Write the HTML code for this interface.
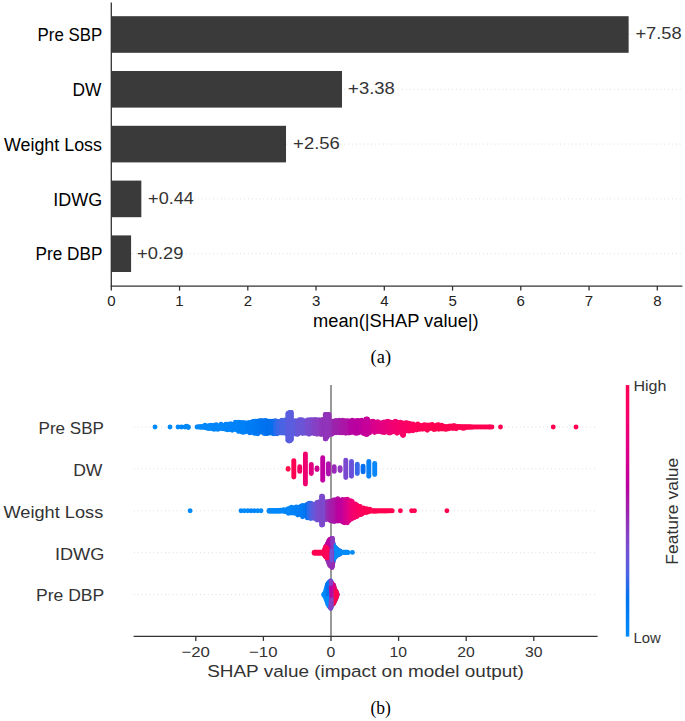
<!DOCTYPE html>
<html><head><meta charset="utf-8"><style>
html,body{margin:0;padding:0;background:#fff;width:685px;height:721px;overflow:hidden}
svg{display:block}
</style></head><body>
<svg width="685" height="721" viewBox="0 0 685 721">
<rect width="685" height="721" fill="#fff"/>
<line x1="113.05" y1="34.5" x2="682.4" y2="34.5" stroke="#c4c4c4" stroke-width="0.75" stroke-dasharray="0.75 3.105"/>
<line x1="113.05" y1="89.3" x2="682.4" y2="89.3" stroke="#c4c4c4" stroke-width="0.75" stroke-dasharray="0.75 3.105"/>
<line x1="113.05" y1="144.1" x2="682.4" y2="144.1" stroke="#c4c4c4" stroke-width="0.75" stroke-dasharray="0.75 3.105"/>
<line x1="113.05" y1="198.9" x2="682.4" y2="198.9" stroke="#c4c4c4" stroke-width="0.75" stroke-dasharray="0.75 3.105"/>
<line x1="113.05" y1="253.7" x2="682.4" y2="253.7" stroke="#c4c4c4" stroke-width="0.75" stroke-dasharray="0.75 3.105"/>
<rect x="111.3" y="16.2" width="517.34" height="36.6" fill="#3a3a3a"/>
<rect x="111.3" y="71" width="230.69" height="36.6" fill="#3a3a3a"/>
<rect x="111.3" y="125.8" width="174.72" height="36.6" fill="#3a3a3a"/>
<rect x="111.3" y="180.6" width="30.03" height="36.6" fill="#3a3a3a"/>
<rect x="111.3" y="235.4" width="19.79" height="36.6" fill="#3a3a3a"/>
<line x1="111.3" y1="2.5" x2="111.3" y2="286.1" stroke="#333" stroke-width="1.3"/>
<line x1="110.64999999999999" y1="286.1" x2="682.4" y2="286.1" stroke="#333" stroke-width="1.3"/>
<line x1="111.3" y1="286.1" x2="111.3" y2="290.6" stroke="#333" stroke-width="1.3"/>
<text transform="translate(107.13 305.6) scale(1.0000 1)" font-family='"Liberation Sans", sans-serif' font-size="15" fill="#222">0</text>
<line x1="179.55" y1="286.1" x2="179.55" y2="290.6" stroke="#333" stroke-width="1.3"/>
<text transform="translate(175.17 305.6) scale(1.0000 1)" font-family='"Liberation Sans", sans-serif' font-size="15" fill="#222">1</text>
<line x1="247.8" y1="286.1" x2="247.8" y2="290.6" stroke="#333" stroke-width="1.3"/>
<text transform="translate(243.63 305.6) scale(1.0000 1)" font-family='"Liberation Sans", sans-serif' font-size="15" fill="#222">2</text>
<line x1="316.05" y1="286.1" x2="316.05" y2="290.6" stroke="#333" stroke-width="1.3"/>
<text transform="translate(311.92 305.6) scale(1.0000 1)" font-family='"Liberation Sans", sans-serif' font-size="15" fill="#222">3</text>
<line x1="384.3" y1="286.1" x2="384.3" y2="290.6" stroke="#333" stroke-width="1.3"/>
<text transform="translate(380.18 305.6) scale(1.0000 1)" font-family='"Liberation Sans", sans-serif' font-size="15" fill="#222">4</text>
<line x1="452.55" y1="286.1" x2="452.55" y2="290.6" stroke="#333" stroke-width="1.3"/>
<text transform="translate(448.39 305.6) scale(1.0000 1)" font-family='"Liberation Sans", sans-serif' font-size="15" fill="#222">5</text>
<line x1="520.8" y1="286.1" x2="520.8" y2="290.6" stroke="#333" stroke-width="1.3"/>
<text transform="translate(516.58 305.6) scale(1.0000 1)" font-family='"Liberation Sans", sans-serif' font-size="15" fill="#222">6</text>
<line x1="589.05" y1="286.1" x2="589.05" y2="290.6" stroke="#333" stroke-width="1.3"/>
<text transform="translate(584.87 305.6) scale(1.0000 1)" font-family='"Liberation Sans", sans-serif' font-size="15" fill="#222">7</text>
<line x1="657.3" y1="286.1" x2="657.3" y2="290.6" stroke="#333" stroke-width="1.3"/>
<text transform="translate(653.13 305.6) scale(1.0000 1)" font-family='"Liberation Sans", sans-serif' font-size="15" fill="#222">8</text>
<text transform="translate(37.62 41.2) scale(0.9582 1)" font-family='"Liberation Sans", sans-serif' font-size="17.6" fill="#000">Pre SBP</text>
<text transform="translate(72.58 96) scale(0.9850 1)" font-family='"Liberation Sans", sans-serif' font-size="17.6" fill="#000">DW</text>
<text transform="translate(3.92 150.8) scale(1.0163 1)" font-family='"Liberation Sans", sans-serif' font-size="17.6" fill="#000">Weight Loss</text>
<text transform="translate(53.34 205.6) scale(1.0231 1)" font-family='"Liberation Sans", sans-serif' font-size="17.6" fill="#000">IDWG</text>
<text transform="translate(35.59 260.4) scale(0.9774 1)" font-family='"Liberation Sans", sans-serif' font-size="17.6" fill="#000">Pre DBP</text>
<text transform="translate(635.41 39.4) scale(1.1198 1)" font-family='"Liberation Sans", sans-serif' font-size="16.3" fill="#333">+7.58</text>
<text transform="translate(348.1 94.2) scale(1.1324 1)" font-family='"Liberation Sans", sans-serif' font-size="16.3" fill="#333">+3.38</text>
<text transform="translate(293.1 149) scale(1.1326 1)" font-family='"Liberation Sans", sans-serif' font-size="16.3" fill="#333">+2.56</text>
<text transform="translate(148.12 203.8) scale(1.1108 1)" font-family='"Liberation Sans", sans-serif' font-size="16.3" fill="#333">+0.44</text>
<text transform="translate(137.11 258.6) scale(1.1241 1)" font-family='"Liberation Sans", sans-serif' font-size="16.3" fill="#333">+0.29</text>
<text transform="translate(312.98 326.6) scale(1.0398 1)" font-family='"Liberation Sans", sans-serif' font-size="17.6" fill="#000">mean(|SHAP value|)</text>
<text transform="translate(370.59 363.3) scale(1.0106 1)" font-family='"Liberation Serif", serif' font-size="18.3" fill="#000">(a)</text>
<line x1="133.79999999999998" y1="427" x2="597.6" y2="427" stroke="#c4c4c4" stroke-width="0.75" stroke-dasharray="0.75 3.15"/>
<line x1="133.79999999999998" y1="468.9" x2="597.6" y2="468.9" stroke="#c4c4c4" stroke-width="0.75" stroke-dasharray="0.75 3.15"/>
<line x1="133.79999999999998" y1="510.8" x2="597.6" y2="510.8" stroke="#c4c4c4" stroke-width="0.75" stroke-dasharray="0.75 3.15"/>
<line x1="133.79999999999998" y1="552.7" x2="597.6" y2="552.7" stroke="#c4c4c4" stroke-width="0.75" stroke-dasharray="0.75 3.15"/>
<line x1="133.79999999999998" y1="594.6" x2="597.6" y2="594.6" stroke="#c4c4c4" stroke-width="0.75" stroke-dasharray="0.75 3.15"/>
<line x1="331.0" y1="385" x2="331.0" y2="636.4" stroke="#999" stroke-width="2"/>
<g>
<circle cx="155.0" cy="427.0" r="2.45" fill="#008bfb"/>
<circle cx="170.0" cy="427.0" r="2.45" fill="#008bfb"/>
<circle cx="178.0" cy="427.0" r="2.45" fill="#008afb"/>
<circle cx="181.4" cy="427.0" r="2.45" fill="#0087fa"/>
<circle cx="184.9" cy="427.0" r="2.45" fill="#0089fa"/>
<circle cx="188.3" cy="427.0" r="2.45" fill="#0087fa"/>
<circle cx="186.5" cy="426.2" r="2.45" fill="#0088fa"/>
<circle cx="188.3" cy="427.6" r="2.45" fill="#0088fa"/>
<line x1="197.0" y1="427.0" x2="197.0" y2="427.0" stroke="#0089fa" stroke-width="4.9" stroke-linecap="round"/>
<line x1="198.6" y1="426.8" x2="198.6" y2="427.1" stroke="#008afb" stroke-width="4.9" stroke-linecap="round"/>
<line x1="200.2" y1="426.6" x2="200.2" y2="427.2" stroke="#0089fa" stroke-width="4.9" stroke-linecap="round"/>
<line x1="201.8" y1="426.5" x2="201.8" y2="427.3" stroke="#0087fa" stroke-width="4.9" stroke-linecap="round"/>
<line x1="203.4" y1="426.9" x2="203.4" y2="427.4" stroke="#0089fa" stroke-width="4.9" stroke-linecap="round"/>
<line x1="205.0" y1="425.3" x2="205.0" y2="427.5" stroke="#0087fa" stroke-width="4.9" stroke-linecap="round"/>
<line x1="206.6" y1="426.3" x2="206.6" y2="428.0" stroke="#0089fa" stroke-width="4.9" stroke-linecap="round"/>
<line x1="208.2" y1="425.9" x2="208.2" y2="428.6" stroke="#0088fa" stroke-width="4.9" stroke-linecap="round"/>
<line x1="209.8" y1="425.4" x2="209.8" y2="428.4" stroke="#0089fa" stroke-width="4.9" stroke-linecap="round"/>
<line x1="211.4" y1="425.2" x2="211.4" y2="428.5" stroke="#0087fa" stroke-width="4.9" stroke-linecap="round"/>
<line x1="213.0" y1="426.6" x2="213.0" y2="429.1" stroke="#0087fa" stroke-width="4.9" stroke-linecap="round"/>
<line x1="214.6" y1="425.1" x2="214.6" y2="429.2" stroke="#0086f9" stroke-width="4.9" stroke-linecap="round"/>
<line x1="216.2" y1="424.7" x2="216.2" y2="428.3" stroke="#0085f9" stroke-width="4.9" stroke-linecap="round"/>
<line x1="217.8" y1="425.6" x2="217.8" y2="429.4" stroke="#0085f9" stroke-width="4.9" stroke-linecap="round"/>
<line x1="219.4" y1="426.2" x2="219.4" y2="427.9" stroke="#0087fa" stroke-width="4.9" stroke-linecap="round"/>
<line x1="221.0" y1="424.3" x2="221.0" y2="428.5" stroke="#0086f9" stroke-width="4.9" stroke-linecap="round"/>
<line x1="222.6" y1="425.6" x2="222.6" y2="428.7" stroke="#0086fa" stroke-width="4.9" stroke-linecap="round"/>
<line x1="224.2" y1="425.4" x2="224.2" y2="428.9" stroke="#0085f9" stroke-width="4.9" stroke-linecap="round"/>
<line x1="225.8" y1="424.2" x2="225.8" y2="429.2" stroke="#0084f9" stroke-width="4.9" stroke-linecap="round"/>
<line x1="227.4" y1="424.2" x2="227.4" y2="429.8" stroke="#0085f9" stroke-width="4.9" stroke-linecap="round"/>
<line x1="229.0" y1="425.5" x2="229.0" y2="429.6" stroke="#0084f9" stroke-width="4.9" stroke-linecap="round"/>
<line x1="230.6" y1="423.8" x2="230.6" y2="429.2" stroke="#0084f9" stroke-width="4.9" stroke-linecap="round"/>
<line x1="232.2" y1="424.7" x2="232.2" y2="430.2" stroke="#0084f9" stroke-width="4.9" stroke-linecap="round"/>
<line x1="233.8" y1="424.1" x2="233.8" y2="429.1" stroke="#0083f8" stroke-width="4.9" stroke-linecap="round"/>
<line x1="235.4" y1="422.2" x2="235.4" y2="429.6" stroke="#0083f8" stroke-width="4.9" stroke-linecap="round"/>
<line x1="237.0" y1="423.2" x2="237.0" y2="430.0" stroke="#0084f9" stroke-width="4.9" stroke-linecap="round"/>
<line x1="238.6" y1="422.3" x2="238.6" y2="431.6" stroke="#0084f9" stroke-width="4.9" stroke-linecap="round"/>
<line x1="240.2" y1="422.5" x2="240.2" y2="430.2" stroke="#0081f8" stroke-width="4.9" stroke-linecap="round"/>
<line x1="241.8" y1="423.0" x2="241.8" y2="432.0" stroke="#0080f7" stroke-width="4.9" stroke-linecap="round"/>
<line x1="243.4" y1="422.5" x2="243.4" y2="432.4" stroke="#0081f8" stroke-width="4.9" stroke-linecap="round"/>
<line x1="245.0" y1="423.3" x2="245.0" y2="431.7" stroke="#0082f8" stroke-width="4.9" stroke-linecap="round"/>
<line x1="246.6" y1="423.0" x2="246.6" y2="431.5" stroke="#007ff7" stroke-width="4.9" stroke-linecap="round"/>
<line x1="248.2" y1="422.9" x2="248.2" y2="430.9" stroke="#007df6" stroke-width="4.9" stroke-linecap="round"/>
<line x1="249.8" y1="422.4" x2="249.8" y2="432.9" stroke="#007cf5" stroke-width="4.9" stroke-linecap="round"/>
<line x1="251.4" y1="422.2" x2="251.4" y2="432.0" stroke="#007df5" stroke-width="4.9" stroke-linecap="round"/>
<line x1="253.0" y1="421.4" x2="253.0" y2="432.5" stroke="#007bf5" stroke-width="4.9" stroke-linecap="round"/>
<line x1="254.6" y1="421.1" x2="254.6" y2="433.4" stroke="#007af4" stroke-width="4.9" stroke-linecap="round"/>
<line x1="256.2" y1="421.2" x2="256.2" y2="433.2" stroke="#007af4" stroke-width="4.9" stroke-linecap="round"/>
<line x1="257.8" y1="421.4" x2="257.8" y2="433.8" stroke="#0078f2" stroke-width="4.9" stroke-linecap="round"/>
<line x1="259.4" y1="420.8" x2="259.4" y2="432.0" stroke="#0077f2" stroke-width="4.9" stroke-linecap="round"/>
<line x1="261.0" y1="420.7" x2="261.0" y2="432.1" stroke="#0075f1" stroke-width="4.9" stroke-linecap="round"/>
<line x1="262.6" y1="420.6" x2="262.6" y2="432.3" stroke="#0074f0" stroke-width="4.9" stroke-linecap="round"/>
<line x1="264.2" y1="420.9" x2="264.2" y2="433.5" stroke="#0074f0" stroke-width="4.9" stroke-linecap="round"/>
<line x1="265.8" y1="420.4" x2="265.8" y2="433.6" stroke="#0074f0" stroke-width="4.9" stroke-linecap="round"/>
<line x1="267.4" y1="421.7" x2="267.4" y2="433.5" stroke="#006fed" stroke-width="4.9" stroke-linecap="round"/>
<line x1="269.0" y1="421.3" x2="269.0" y2="433.1" stroke="#0070ed" stroke-width="4.9" stroke-linecap="round"/>
<line x1="270.6" y1="421.2" x2="270.6" y2="432.9" stroke="#0070ed" stroke-width="4.9" stroke-linecap="round"/>
<line x1="272.2" y1="421.1" x2="272.2" y2="433.3" stroke="#066fec" stroke-width="4.9" stroke-linecap="round"/>
<line x1="273.8" y1="421.1" x2="273.8" y2="433.7" stroke="#056fec" stroke-width="4.9" stroke-linecap="round"/>
<line x1="275.4" y1="420.7" x2="275.4" y2="433.6" stroke="#206ceb" stroke-width="4.9" stroke-linecap="round"/>
<line x1="277.0" y1="421.4" x2="277.0" y2="433.8" stroke="#296bea" stroke-width="4.9" stroke-linecap="round"/>
<line x1="278.6" y1="421.4" x2="278.6" y2="433.1" stroke="#3b68e7" stroke-width="4.9" stroke-linecap="round"/>
<line x1="280.2" y1="421.6" x2="280.2" y2="432.9" stroke="#3b68e7" stroke-width="4.9" stroke-linecap="round"/>
<line x1="281.8" y1="420.1" x2="281.8" y2="433.1" stroke="#4964e4" stroke-width="4.9" stroke-linecap="round"/>
<line x1="283.4" y1="421.4" x2="283.4" y2="432.9" stroke="#4b63e3" stroke-width="4.9" stroke-linecap="round"/>
<line x1="285.0" y1="420.0" x2="285.0" y2="433.2" stroke="#4964e3" stroke-width="4.9" stroke-linecap="round"/>
<line x1="286.6" y1="421.5" x2="286.6" y2="433.3" stroke="#4c63e3" stroke-width="4.9" stroke-linecap="round"/>
<line x1="288.2" y1="420.1" x2="288.2" y2="434.0" stroke="#4f62e2" stroke-width="4.9" stroke-linecap="round"/>
<line x1="289.8" y1="421.1" x2="289.8" y2="433.9" stroke="#575edf" stroke-width="4.9" stroke-linecap="round"/>
<line x1="291.4" y1="420.1" x2="291.4" y2="433.0" stroke="#5460e0" stroke-width="4.9" stroke-linecap="round"/>
<line x1="293.0" y1="421.1" x2="293.0" y2="433.9" stroke="#595ede" stroke-width="4.9" stroke-linecap="round"/>
<line x1="294.6" y1="421.0" x2="294.6" y2="433.2" stroke="#5d5cdd" stroke-width="4.9" stroke-linecap="round"/>
<line x1="296.2" y1="420.8" x2="296.2" y2="434.2" stroke="#5d5cdd" stroke-width="4.9" stroke-linecap="round"/>
<line x1="297.8" y1="421.6" x2="297.8" y2="434.2" stroke="#6757d8" stroke-width="4.9" stroke-linecap="round"/>
<line x1="299.4" y1="419.6" x2="299.4" y2="433.1" stroke="#6a55d7" stroke-width="4.9" stroke-linecap="round"/>
<line x1="301.0" y1="419.7" x2="301.0" y2="432.7" stroke="#6a55d7" stroke-width="4.9" stroke-linecap="round"/>
<line x1="302.6" y1="419.9" x2="302.6" y2="433.5" stroke="#6b55d6" stroke-width="4.9" stroke-linecap="round"/>
<line x1="304.2" y1="421.0" x2="304.2" y2="432.8" stroke="#6b55d7" stroke-width="4.9" stroke-linecap="round"/>
<line x1="305.8" y1="421.4" x2="305.8" y2="433.4" stroke="#6e53d5" stroke-width="4.9" stroke-linecap="round"/>
<line x1="307.4" y1="419.9" x2="307.4" y2="432.3" stroke="#774dcf" stroke-width="4.9" stroke-linecap="round"/>
<line x1="309.0" y1="420.0" x2="309.0" y2="434.2" stroke="#7b4bcd" stroke-width="4.9" stroke-linecap="round"/>
<line x1="310.6" y1="419.6" x2="310.6" y2="433.5" stroke="#774dcf" stroke-width="4.9" stroke-linecap="round"/>
<line x1="312.2" y1="419.8" x2="312.2" y2="432.8" stroke="#7d49cb" stroke-width="4.9" stroke-linecap="round"/>
<line x1="313.8" y1="420.0" x2="313.8" y2="433.6" stroke="#8145c8" stroke-width="4.9" stroke-linecap="round"/>
<line x1="315.4" y1="419.4" x2="315.4" y2="433.8" stroke="#8443c6" stroke-width="4.9" stroke-linecap="round"/>
<line x1="317.0" y1="420.7" x2="317.0" y2="434.3" stroke="#8740c3" stroke-width="4.9" stroke-linecap="round"/>
<line x1="318.6" y1="419.6" x2="318.6" y2="433.4" stroke="#883fc3" stroke-width="4.9" stroke-linecap="round"/>
<line x1="320.2" y1="420.1" x2="320.2" y2="434.3" stroke="#8a3dc1" stroke-width="4.9" stroke-linecap="round"/>
<line x1="321.8" y1="419.6" x2="321.8" y2="434.6" stroke="#9036bb" stroke-width="4.9" stroke-linecap="round"/>
<line x1="323.4" y1="419.5" x2="323.4" y2="432.8" stroke="#9035ba" stroke-width="4.9" stroke-linecap="round"/>
<line x1="325.0" y1="419.4" x2="325.0" y2="432.9" stroke="#8f36bb" stroke-width="4.9" stroke-linecap="round"/>
<line x1="326.6" y1="420.7" x2="326.6" y2="433.8" stroke="#9233b8" stroke-width="4.9" stroke-linecap="round"/>
<line x1="328.2" y1="420.3" x2="328.2" y2="434.2" stroke="#9134b9" stroke-width="4.9" stroke-linecap="round"/>
<line x1="329.8" y1="421.2" x2="329.8" y2="432.8" stroke="#9430b6" stroke-width="4.9" stroke-linecap="round"/>
<line x1="331.4" y1="421.3" x2="331.4" y2="434.4" stroke="#9927af" stroke-width="4.9" stroke-linecap="round"/>
<line x1="333.0" y1="421.3" x2="333.0" y2="433.3" stroke="#9829b1" stroke-width="4.9" stroke-linecap="round"/>
<line x1="334.6" y1="420.9" x2="334.6" y2="432.9" stroke="#9c23ad" stroke-width="4.9" stroke-linecap="round"/>
<line x1="336.2" y1="420.4" x2="336.2" y2="432.8" stroke="#9b24ad" stroke-width="4.9" stroke-linecap="round"/>
<line x1="337.8" y1="421.0" x2="337.8" y2="432.3" stroke="#a01fab" stroke-width="4.9" stroke-linecap="round"/>
<line x1="339.4" y1="420.3" x2="339.4" y2="432.8" stroke="#9f20ab" stroke-width="4.9" stroke-linecap="round"/>
<line x1="341.0" y1="421.4" x2="341.0" y2="432.7" stroke="#a61ba9" stroke-width="4.9" stroke-linecap="round"/>
<line x1="342.6" y1="420.3" x2="342.6" y2="432.7" stroke="#aa17a7" stroke-width="4.9" stroke-linecap="round"/>
<line x1="344.2" y1="420.7" x2="344.2" y2="432.7" stroke="#a918a8" stroke-width="4.9" stroke-linecap="round"/>
<line x1="345.8" y1="421.0" x2="345.8" y2="433.2" stroke="#ac15a6" stroke-width="4.9" stroke-linecap="round"/>
<line x1="347.4" y1="420.6" x2="347.4" y2="432.7" stroke="#ad14a6" stroke-width="4.9" stroke-linecap="round"/>
<line x1="349.0" y1="421.0" x2="349.0" y2="433.1" stroke="#ad13a6" stroke-width="4.9" stroke-linecap="round"/>
<line x1="350.6" y1="421.3" x2="350.6" y2="432.5" stroke="#b507a2" stroke-width="4.9" stroke-linecap="round"/>
<line x1="352.2" y1="420.3" x2="352.2" y2="432.4" stroke="#b703a1" stroke-width="4.9" stroke-linecap="round"/>
<line x1="353.8" y1="420.6" x2="353.8" y2="432.1" stroke="#b605a2" stroke-width="4.9" stroke-linecap="round"/>
<line x1="355.4" y1="422.0" x2="355.4" y2="433.2" stroke="#b900a0" stroke-width="4.9" stroke-linecap="round"/>
<line x1="357.0" y1="420.4" x2="357.0" y2="433.2" stroke="#bb009f" stroke-width="4.9" stroke-linecap="round"/>
<line x1="358.6" y1="420.6" x2="358.6" y2="432.9" stroke="#b900a0" stroke-width="4.9" stroke-linecap="round"/>
<line x1="360.2" y1="420.8" x2="360.2" y2="431.9" stroke="#bc009f" stroke-width="4.9" stroke-linecap="round"/>
<line x1="361.8" y1="420.3" x2="361.8" y2="432.0" stroke="#bd009e" stroke-width="4.9" stroke-linecap="round"/>
<line x1="363.4" y1="421.8" x2="363.4" y2="433.6" stroke="#c1009c" stroke-width="4.9" stroke-linecap="round"/>
<line x1="365.0" y1="422.1" x2="365.0" y2="433.3" stroke="#c4009a" stroke-width="4.9" stroke-linecap="round"/>
<line x1="366.6" y1="420.6" x2="366.6" y2="432.8" stroke="#cc0095" stroke-width="4.9" stroke-linecap="round"/>
<line x1="368.2" y1="420.6" x2="368.2" y2="432.5" stroke="#cf0093" stroke-width="4.9" stroke-linecap="round"/>
<line x1="369.8" y1="422.6" x2="369.8" y2="432.7" stroke="#d00092" stroke-width="4.9" stroke-linecap="round"/>
<line x1="371.4" y1="421.4" x2="371.4" y2="431.2" stroke="#d5008f" stroke-width="4.9" stroke-linecap="round"/>
<line x1="373.0" y1="421.1" x2="373.0" y2="431.0" stroke="#d5008f" stroke-width="4.9" stroke-linecap="round"/>
<line x1="374.6" y1="421.9" x2="374.6" y2="432.5" stroke="#d7008d" stroke-width="4.9" stroke-linecap="round"/>
<line x1="376.2" y1="422.8" x2="376.2" y2="431.3" stroke="#db008a" stroke-width="4.9" stroke-linecap="round"/>
<line x1="377.8" y1="421.8" x2="377.8" y2="431.6" stroke="#dc0089" stroke-width="4.9" stroke-linecap="round"/>
<line x1="379.4" y1="422.6" x2="379.4" y2="431.5" stroke="#de0087" stroke-width="4.9" stroke-linecap="round"/>
<line x1="381.0" y1="423.2" x2="381.0" y2="431.8" stroke="#e30082" stroke-width="4.9" stroke-linecap="round"/>
<line x1="382.6" y1="422.5" x2="382.6" y2="432.4" stroke="#e10084" stroke-width="4.9" stroke-linecap="round"/>
<line x1="384.2" y1="421.9" x2="384.2" y2="432.5" stroke="#e6007f" stroke-width="4.9" stroke-linecap="round"/>
<line x1="385.8" y1="422.2" x2="385.8" y2="432.0" stroke="#e8007e" stroke-width="4.9" stroke-linecap="round"/>
<line x1="387.4" y1="421.3" x2="387.4" y2="431.4" stroke="#e7007e" stroke-width="4.9" stroke-linecap="round"/>
<line x1="389.0" y1="421.6" x2="389.0" y2="433.0" stroke="#eb007a" stroke-width="4.9" stroke-linecap="round"/>
<line x1="390.6" y1="422.1" x2="390.6" y2="432.7" stroke="#ec0079" stroke-width="4.9" stroke-linecap="round"/>
<line x1="392.2" y1="422.4" x2="392.2" y2="431.8" stroke="#ef0075" stroke-width="4.9" stroke-linecap="round"/>
<line x1="393.8" y1="422.3" x2="393.8" y2="431.9" stroke="#f10073" stroke-width="4.9" stroke-linecap="round"/>
<line x1="395.4" y1="421.1" x2="395.4" y2="432.1" stroke="#f30070" stroke-width="4.9" stroke-linecap="round"/>
<line x1="397.0" y1="422.2" x2="397.0" y2="433.3" stroke="#f4006f" stroke-width="4.9" stroke-linecap="round"/>
<line x1="398.6" y1="422.5" x2="398.6" y2="432.1" stroke="#f30070" stroke-width="4.9" stroke-linecap="round"/>
<line x1="400.2" y1="422.1" x2="400.2" y2="432.4" stroke="#f5006d" stroke-width="4.9" stroke-linecap="round"/>
<line x1="401.8" y1="422.7" x2="401.8" y2="431.8" stroke="#f80068" stroke-width="4.9" stroke-linecap="round"/>
<line x1="403.4" y1="423.5" x2="403.4" y2="432.6" stroke="#f90067" stroke-width="4.9" stroke-linecap="round"/>
<line x1="405.0" y1="423.0" x2="405.0" y2="431.0" stroke="#fb0063" stroke-width="4.9" stroke-linecap="round"/>
<line x1="406.6" y1="422.8" x2="406.6" y2="430.8" stroke="#fb0064" stroke-width="4.9" stroke-linecap="round"/>
<line x1="408.2" y1="423.2" x2="408.2" y2="431.1" stroke="#fb0063" stroke-width="4.9" stroke-linecap="round"/>
<line x1="409.8" y1="423.5" x2="409.8" y2="431.0" stroke="#fc0061" stroke-width="4.9" stroke-linecap="round"/>
<line x1="411.4" y1="424.6" x2="411.4" y2="429.4" stroke="#fd005f" stroke-width="4.9" stroke-linecap="round"/>
<line x1="413.0" y1="423.9" x2="413.0" y2="430.8" stroke="#fe005d" stroke-width="4.9" stroke-linecap="round"/>
<line x1="414.6" y1="424.9" x2="414.6" y2="429.2" stroke="#fd005f" stroke-width="4.9" stroke-linecap="round"/>
<line x1="416.2" y1="425.1" x2="416.2" y2="430.1" stroke="#ff005b" stroke-width="4.9" stroke-linecap="round"/>
<line x1="417.8" y1="423.9" x2="417.8" y2="429.2" stroke="#ff005a" stroke-width="4.9" stroke-linecap="round"/>
<line x1="419.4" y1="425.2" x2="419.4" y2="429.4" stroke="#ff0059" stroke-width="4.9" stroke-linecap="round"/>
<line x1="421.0" y1="425.7" x2="421.0" y2="428.7" stroke="#ff0058" stroke-width="4.9" stroke-linecap="round"/>
<line x1="422.6" y1="425.4" x2="422.6" y2="429.2" stroke="#ff0058" stroke-width="4.9" stroke-linecap="round"/>
<line x1="424.2" y1="424.7" x2="424.2" y2="428.4" stroke="#ff0059" stroke-width="4.9" stroke-linecap="round"/>
<line x1="425.8" y1="425.2" x2="425.8" y2="429.3" stroke="#ff0059" stroke-width="4.9" stroke-linecap="round"/>
<line x1="427.4" y1="425.0" x2="427.4" y2="430.2" stroke="#ff0057" stroke-width="4.9" stroke-linecap="round"/>
<line x1="429.0" y1="425.1" x2="429.0" y2="428.4" stroke="#ff0057" stroke-width="4.9" stroke-linecap="round"/>
<line x1="430.6" y1="424.9" x2="430.6" y2="428.4" stroke="#ff0053" stroke-width="4.9" stroke-linecap="round"/>
<line x1="432.2" y1="424.5" x2="432.2" y2="428.3" stroke="#ff0052" stroke-width="4.9" stroke-linecap="round"/>
<line x1="433.8" y1="425.7" x2="433.8" y2="429.5" stroke="#ff0052" stroke-width="4.9" stroke-linecap="round"/>
<line x1="435.4" y1="425.9" x2="435.4" y2="429.3" stroke="#ff0052" stroke-width="4.9" stroke-linecap="round"/>
<line x1="437.0" y1="424.9" x2="437.0" y2="428.4" stroke="#ff0051" stroke-width="4.9" stroke-linecap="round"/>
<line x1="438.6" y1="424.7" x2="438.6" y2="429.2" stroke="#ff0052" stroke-width="4.9" stroke-linecap="round"/>
<line x1="440.2" y1="426.4" x2="440.2" y2="428.7" stroke="#ff0052" stroke-width="4.9" stroke-linecap="round"/>
<line x1="441.8" y1="425.3" x2="441.8" y2="429.0" stroke="#ff0051" stroke-width="4.9" stroke-linecap="round"/>
<line x1="443.4" y1="426.4" x2="443.4" y2="428.9" stroke="#ff0051" stroke-width="4.9" stroke-linecap="round"/>
<line x1="445.0" y1="426.5" x2="445.0" y2="429.3" stroke="#ff0051" stroke-width="4.9" stroke-linecap="round"/>
<line x1="446.6" y1="426.7" x2="446.6" y2="429.3" stroke="#ff0053" stroke-width="4.9" stroke-linecap="round"/>
<line x1="448.2" y1="426.4" x2="448.2" y2="428.8" stroke="#ff0051" stroke-width="4.9" stroke-linecap="round"/>
<line x1="449.8" y1="426.0" x2="449.8" y2="428.6" stroke="#ff0051" stroke-width="4.9" stroke-linecap="round"/>
<line x1="451.4" y1="426.5" x2="451.4" y2="427.5" stroke="#ff0053" stroke-width="4.9" stroke-linecap="round"/>
<line x1="453.0" y1="425.8" x2="453.0" y2="428.6" stroke="#ff0051" stroke-width="4.9" stroke-linecap="round"/>
<line x1="454.6" y1="425.8" x2="454.6" y2="427.7" stroke="#ff0052" stroke-width="4.9" stroke-linecap="round"/>
<line x1="456.2" y1="426.6" x2="456.2" y2="428.7" stroke="#ff0054" stroke-width="4.9" stroke-linecap="round"/>
<line x1="457.8" y1="426.4" x2="457.8" y2="427.4" stroke="#ff0051" stroke-width="4.9" stroke-linecap="round"/>
<line x1="459.4" y1="426.5" x2="459.4" y2="427.5" stroke="#ff0052" stroke-width="4.9" stroke-linecap="round"/>
<line x1="461.0" y1="426.6" x2="461.0" y2="427.5" stroke="#ff0051" stroke-width="4.9" stroke-linecap="round"/>
<line x1="462.6" y1="426.6" x2="462.6" y2="428.2" stroke="#ff0052" stroke-width="4.9" stroke-linecap="round"/>
<line x1="464.2" y1="426.7" x2="464.2" y2="428.2" stroke="#ff0053" stroke-width="4.9" stroke-linecap="round"/>
<line x1="465.8" y1="426.7" x2="465.8" y2="427.5" stroke="#ff0052" stroke-width="4.9" stroke-linecap="round"/>
<line x1="467.4" y1="426.7" x2="467.4" y2="427.4" stroke="#ff0053" stroke-width="4.9" stroke-linecap="round"/>
<line x1="469.0" y1="426.8" x2="469.0" y2="427.3" stroke="#ff0053" stroke-width="4.9" stroke-linecap="round"/>
<line x1="470.6" y1="426.8" x2="470.6" y2="427.3" stroke="#ff0051" stroke-width="4.9" stroke-linecap="round"/>
<line x1="472.2" y1="426.9" x2="472.2" y2="427.2" stroke="#ff0051" stroke-width="4.9" stroke-linecap="round"/>
<line x1="473.8" y1="426.9" x2="473.8" y2="427.1" stroke="#ff0053" stroke-width="4.9" stroke-linecap="round"/>
<line x1="475.4" y1="426.9" x2="475.4" y2="427.0" stroke="#ff0053" stroke-width="4.9" stroke-linecap="round"/>
<line x1="477.0" y1="426.9" x2="477.0" y2="427.0" stroke="#ff0052" stroke-width="4.9" stroke-linecap="round"/>
<line x1="478.6" y1="426.9" x2="478.6" y2="427.0" stroke="#ff0051" stroke-width="4.9" stroke-linecap="round"/>
<line x1="480.2" y1="426.9" x2="480.2" y2="427.0" stroke="#ff0051" stroke-width="4.9" stroke-linecap="round"/>
<line x1="481.8" y1="426.9" x2="481.8" y2="427.0" stroke="#ff0051" stroke-width="4.9" stroke-linecap="round"/>
<line x1="483.4" y1="426.9" x2="483.4" y2="427.0" stroke="#ff0051" stroke-width="4.9" stroke-linecap="round"/>
<line x1="485.0" y1="426.9" x2="485.0" y2="427.0" stroke="#ff0053" stroke-width="4.9" stroke-linecap="round"/>
<line x1="486.6" y1="426.9" x2="486.6" y2="427.0" stroke="#ff0052" stroke-width="4.9" stroke-linecap="round"/>
<line x1="488.2" y1="426.9" x2="488.2" y2="427.0" stroke="#ff0053" stroke-width="4.9" stroke-linecap="round"/>
<line x1="489.8" y1="426.9" x2="489.8" y2="427.0" stroke="#ff0051" stroke-width="4.9" stroke-linecap="round"/>
<line x1="287.8" y1="413.6" x2="287.8" y2="440.2" stroke="#595ede" stroke-width="4.9" stroke-linecap="round"/>
<line x1="288.4" y1="413.2" x2="288.4" y2="440.2" stroke="#5b5ddd" stroke-width="4.9" stroke-linecap="round"/>
<line x1="289.0" y1="412.9" x2="289.0" y2="441.0" stroke="#595ede" stroke-width="4.9" stroke-linecap="round"/>
<line x1="289.6" y1="412.8" x2="289.6" y2="440.9" stroke="#5b5dde" stroke-width="4.9" stroke-linecap="round"/>
<line x1="290.2" y1="412.4" x2="290.2" y2="440.5" stroke="#595ede" stroke-width="4.9" stroke-linecap="round"/>
<line x1="290.8" y1="412.4" x2="290.8" y2="440.0" stroke="#5a5dde" stroke-width="4.9" stroke-linecap="round"/>
<line x1="291.4" y1="412.4" x2="291.4" y2="439.4" stroke="#5b5dde" stroke-width="4.9" stroke-linecap="round"/>
<line x1="325.4" y1="414.6" x2="325.4" y2="438.9" stroke="#9135ba" stroke-width="4.9" stroke-linecap="round"/>
<line x1="326.1" y1="414.7" x2="326.1" y2="438.0" stroke="#9134b9" stroke-width="4.9" stroke-linecap="round"/>
<line x1="326.7" y1="414.9" x2="326.7" y2="437.4" stroke="#9233b9" stroke-width="4.9" stroke-linecap="round"/>
<line x1="327.3" y1="414.7" x2="327.3" y2="436.6" stroke="#9332b7" stroke-width="4.9" stroke-linecap="round"/>
<line x1="327.9" y1="414.4" x2="327.9" y2="435.6" stroke="#9332b7" stroke-width="4.9" stroke-linecap="round"/>
<line x1="328.5" y1="414.6" x2="328.5" y2="434.7" stroke="#9233b8" stroke-width="4.9" stroke-linecap="round"/>
<line x1="329.1" y1="414.8" x2="329.1" y2="434.0" stroke="#9332b7" stroke-width="4.9" stroke-linecap="round"/>
<line x1="325.4" y1="414.5" x2="325.4" y2="438.9" stroke="#9134b9" stroke-width="4.9" stroke-linecap="round"/>
<line x1="325.8" y1="414.6" x2="325.8" y2="438.8" stroke="#9134b9" stroke-width="4.9" stroke-linecap="round"/>
<line x1="365.8" y1="419.2" x2="365.8" y2="434.4" stroke="#c70099" stroke-width="4.9" stroke-linecap="round"/>
<line x1="366.4" y1="419.1" x2="366.4" y2="434.1" stroke="#c80098" stroke-width="4.9" stroke-linecap="round"/>
<line x1="367.0" y1="419.0" x2="367.0" y2="434.4" stroke="#c70098" stroke-width="4.9" stroke-linecap="round"/>
<line x1="367.6" y1="419.1" x2="367.6" y2="434.1" stroke="#c60099" stroke-width="4.9" stroke-linecap="round"/>
<line x1="402.5" y1="423.7" x2="402.5" y2="435.1" stroke="#f7006b" stroke-width="4.9" stroke-linecap="round"/>
<line x1="403.0" y1="423.7" x2="403.0" y2="435.3" stroke="#f80067" stroke-width="4.9" stroke-linecap="round"/>
<line x1="403.5" y1="423.4" x2="403.5" y2="435.3" stroke="#f90066" stroke-width="4.9" stroke-linecap="round"/>
<circle cx="490.0" cy="427.0" r="2.45" fill="#ff0054"/>
<circle cx="492.0" cy="427.0" r="2.45" fill="#ff0052"/>
<circle cx="500.5" cy="427.0" r="2.45" fill="#ff0051"/>
<circle cx="553.2" cy="427.0" r="2.45" fill="#ff0051"/>
<circle cx="576.0" cy="427.0" r="2.45" fill="#ff0051"/>
<line x1="288.1" y1="468.5" x2="288.1" y2="469.2" stroke="#ff1050" stroke-width="4.9" stroke-linecap="round"/>
<line x1="293.8" y1="460.6" x2="293.8" y2="477.1" stroke="#ff0050" stroke-width="4.9" stroke-linecap="round"/>
<line x1="299.7" y1="466.7" x2="299.7" y2="471.4" stroke="#f50060" stroke-width="4.9" stroke-linecap="round"/>
<line x1="305.4" y1="454.0" x2="305.4" y2="484.1" stroke="#ee0070" stroke-width="4.9" stroke-linecap="round"/>
<line x1="311.3" y1="464.5" x2="311.3" y2="473.6" stroke="#e00080" stroke-width="4.9" stroke-linecap="round"/>
<line x1="317.0" y1="468.0" x2="317.0" y2="469.6" stroke="#d0008f" stroke-width="4.9" stroke-linecap="round"/>
<line x1="322.7" y1="457.7" x2="322.7" y2="480.2" stroke="#c000a0" stroke-width="4.9" stroke-linecap="round"/>
<line x1="328.4" y1="463.6" x2="328.4" y2="474.1" stroke="#b010b0" stroke-width="4.9" stroke-linecap="round"/>
<line x1="334.2" y1="466.7" x2="334.2" y2="471.4" stroke="#9a28b8" stroke-width="4.9" stroke-linecap="round"/>
<line x1="340.1" y1="467.6" x2="340.1" y2="470.6" stroke="#9038c0" stroke-width="4.9" stroke-linecap="round"/>
<line x1="345.8" y1="460.1" x2="345.8" y2="477.6" stroke="#7a48d0" stroke-width="4.9" stroke-linecap="round"/>
<line x1="351.5" y1="461.5" x2="351.5" y2="476.3" stroke="#6850d8" stroke-width="4.9" stroke-linecap="round"/>
<line x1="357.3" y1="464.3" x2="357.3" y2="473.6" stroke="#3a68e8" stroke-width="4.9" stroke-linecap="round"/>
<line x1="363.1" y1="466.3" x2="363.1" y2="471.9" stroke="#0870f0" stroke-width="4.9" stroke-linecap="round"/>
<line x1="368.8" y1="461.5" x2="368.8" y2="476.3" stroke="#0880f8" stroke-width="4.9" stroke-linecap="round"/>
<line x1="374.7" y1="463.5" x2="374.7" y2="474.5" stroke="#0888f8" stroke-width="4.9" stroke-linecap="round"/>
<circle cx="190.1" cy="510.8" r="2.45" fill="#008bfb"/>
<circle cx="241.0" cy="510.8" r="2.45" fill="#0086f9"/>
<circle cx="244.3" cy="510.8" r="2.45" fill="#0089fa"/>
<circle cx="247.7" cy="510.8" r="2.45" fill="#008afb"/>
<circle cx="251.0" cy="510.8" r="2.45" fill="#0084f9"/>
<circle cx="254.3" cy="510.8" r="2.45" fill="#0086f9"/>
<circle cx="257.7" cy="510.8" r="2.45" fill="#0089fa"/>
<circle cx="261.0" cy="510.8" r="2.45" fill="#0089fa"/>
<line x1="269.0" y1="510.4" x2="269.0" y2="511.2" stroke="#0088fa" stroke-width="4.9" stroke-linecap="round"/>
<line x1="270.6" y1="510.4" x2="270.6" y2="511.2" stroke="#0087fa" stroke-width="4.9" stroke-linecap="round"/>
<line x1="272.2" y1="510.4" x2="272.2" y2="511.2" stroke="#0088fa" stroke-width="4.9" stroke-linecap="round"/>
<line x1="273.8" y1="510.4" x2="273.8" y2="511.2" stroke="#0089fa" stroke-width="4.9" stroke-linecap="round"/>
<line x1="275.4" y1="510.4" x2="275.4" y2="511.2" stroke="#0088fa" stroke-width="4.9" stroke-linecap="round"/>
<line x1="277.0" y1="510.4" x2="277.0" y2="511.2" stroke="#0086f9" stroke-width="4.9" stroke-linecap="round"/>
<line x1="278.6" y1="510.4" x2="278.6" y2="511.2" stroke="#0088fa" stroke-width="4.9" stroke-linecap="round"/>
<line x1="280.2" y1="510.3" x2="280.2" y2="511.3" stroke="#0087fa" stroke-width="4.9" stroke-linecap="round"/>
<line x1="281.8" y1="510.6" x2="281.8" y2="511.0" stroke="#0087fa" stroke-width="4.9" stroke-linecap="round"/>
<line x1="283.4" y1="509.8" x2="283.4" y2="511.3" stroke="#0088fa" stroke-width="4.9" stroke-linecap="round"/>
<line x1="285.0" y1="510.1" x2="285.0" y2="511.6" stroke="#0086f9" stroke-width="4.9" stroke-linecap="round"/>
<line x1="286.6" y1="509.8" x2="286.6" y2="511.6" stroke="#0086f9" stroke-width="4.9" stroke-linecap="round"/>
<line x1="288.2" y1="508.8" x2="288.2" y2="513.3" stroke="#0087fa" stroke-width="4.9" stroke-linecap="round"/>
<line x1="289.8" y1="508.5" x2="289.8" y2="513.0" stroke="#0087fa" stroke-width="4.9" stroke-linecap="round"/>
<line x1="291.4" y1="507.1" x2="291.4" y2="512.9" stroke="#0086f9" stroke-width="4.9" stroke-linecap="round"/>
<line x1="293.0" y1="507.9" x2="293.0" y2="513.0" stroke="#0083f8" stroke-width="4.9" stroke-linecap="round"/>
<line x1="294.6" y1="508.0" x2="294.6" y2="513.1" stroke="#0084f9" stroke-width="4.9" stroke-linecap="round"/>
<line x1="296.2" y1="507.0" x2="296.2" y2="513.6" stroke="#0080f7" stroke-width="4.9" stroke-linecap="round"/>
<line x1="297.8" y1="507.3" x2="297.8" y2="515.1" stroke="#0081f8" stroke-width="4.9" stroke-linecap="round"/>
<line x1="299.4" y1="507.5" x2="299.4" y2="514.0" stroke="#007ff6" stroke-width="4.9" stroke-linecap="round"/>
<line x1="301.0" y1="506.2" x2="301.0" y2="514.7" stroke="#007ff7" stroke-width="4.9" stroke-linecap="round"/>
<line x1="302.6" y1="505.4" x2="302.6" y2="516.8" stroke="#007bf4" stroke-width="4.9" stroke-linecap="round"/>
<line x1="304.2" y1="506.0" x2="304.2" y2="515.6" stroke="#007af4" stroke-width="4.9" stroke-linecap="round"/>
<line x1="305.8" y1="505.4" x2="305.8" y2="515.9" stroke="#0076f2" stroke-width="4.9" stroke-linecap="round"/>
<line x1="307.4" y1="504.1" x2="307.4" y2="517.9" stroke="#0071ee" stroke-width="4.9" stroke-linecap="round"/>
<line x1="309.0" y1="503.2" x2="309.0" y2="517.3" stroke="#2d6be9" stroke-width="4.9" stroke-linecap="round"/>
<line x1="310.6" y1="503.1" x2="310.6" y2="518.5" stroke="#3469e8" stroke-width="4.9" stroke-linecap="round"/>
<line x1="312.2" y1="504.0" x2="312.2" y2="518.1" stroke="#5260e1" stroke-width="4.9" stroke-linecap="round"/>
<line x1="313.8" y1="504.2" x2="313.8" y2="518.0" stroke="#5e5bdc" stroke-width="4.9" stroke-linecap="round"/>
<line x1="315.4" y1="503.9" x2="315.4" y2="518.7" stroke="#6558d9" stroke-width="4.9" stroke-linecap="round"/>
<line x1="317.0" y1="502.4" x2="317.0" y2="520.1" stroke="#6d54d6" stroke-width="4.9" stroke-linecap="round"/>
<line x1="318.6" y1="501.9" x2="318.6" y2="519.8" stroke="#794cce" stroke-width="4.9" stroke-linecap="round"/>
<line x1="320.2" y1="502.1" x2="320.2" y2="520.2" stroke="#7b4acd" stroke-width="4.9" stroke-linecap="round"/>
<line x1="321.8" y1="502.4" x2="321.8" y2="518.8" stroke="#8344c7" stroke-width="4.9" stroke-linecap="round"/>
<line x1="323.4" y1="502.3" x2="323.4" y2="518.9" stroke="#8344c7" stroke-width="4.9" stroke-linecap="round"/>
<line x1="325.0" y1="501.8" x2="325.0" y2="519.6" stroke="#8b3cc0" stroke-width="4.9" stroke-linecap="round"/>
<line x1="326.6" y1="502.3" x2="326.6" y2="519.5" stroke="#8e39bd" stroke-width="4.9" stroke-linecap="round"/>
<line x1="328.2" y1="501.5" x2="328.2" y2="518.7" stroke="#952eb5" stroke-width="4.9" stroke-linecap="round"/>
<line x1="329.8" y1="501.3" x2="329.8" y2="520.2" stroke="#9828b0" stroke-width="4.9" stroke-linecap="round"/>
<line x1="331.4" y1="501.9" x2="331.4" y2="520.9" stroke="#a11fab" stroke-width="4.9" stroke-linecap="round"/>
<line x1="333.0" y1="500.1" x2="333.0" y2="521.4" stroke="#a51ca9" stroke-width="4.9" stroke-linecap="round"/>
<line x1="334.6" y1="499.6" x2="334.6" y2="521.6" stroke="#a918a8" stroke-width="4.9" stroke-linecap="round"/>
<line x1="336.2" y1="500.2" x2="336.2" y2="520.7" stroke="#ae12a5" stroke-width="4.9" stroke-linecap="round"/>
<line x1="337.8" y1="498.8" x2="337.8" y2="521.0" stroke="#b507a2" stroke-width="4.9" stroke-linecap="round"/>
<line x1="339.4" y1="500.5" x2="339.4" y2="520.9" stroke="#bb009f" stroke-width="4.9" stroke-linecap="round"/>
<line x1="341.0" y1="500.3" x2="341.0" y2="520.8" stroke="#bc009f" stroke-width="4.9" stroke-linecap="round"/>
<line x1="342.6" y1="499.5" x2="342.6" y2="521.9" stroke="#c1009c" stroke-width="4.9" stroke-linecap="round"/>
<line x1="344.2" y1="500.3" x2="344.2" y2="522.7" stroke="#c70099" stroke-width="4.9" stroke-linecap="round"/>
<line x1="345.8" y1="499.4" x2="345.8" y2="521.9" stroke="#d00092" stroke-width="4.9" stroke-linecap="round"/>
<line x1="347.4" y1="499.2" x2="347.4" y2="522.8" stroke="#d7008d" stroke-width="4.9" stroke-linecap="round"/>
<line x1="349.0" y1="500.9" x2="349.0" y2="520.7" stroke="#de0087" stroke-width="4.9" stroke-linecap="round"/>
<line x1="350.6" y1="500.6" x2="350.6" y2="519.6" stroke="#e6007f" stroke-width="4.9" stroke-linecap="round"/>
<line x1="352.2" y1="501.5" x2="352.2" y2="518.5" stroke="#f00074" stroke-width="4.9" stroke-linecap="round"/>
<line x1="353.8" y1="504.4" x2="353.8" y2="517.9" stroke="#f20071" stroke-width="4.9" stroke-linecap="round"/>
<line x1="355.4" y1="504.0" x2="355.4" y2="517.1" stroke="#f7006a" stroke-width="4.9" stroke-linecap="round"/>
<line x1="357.0" y1="505.2" x2="357.0" y2="516.6" stroke="#f90067" stroke-width="4.9" stroke-linecap="round"/>
<line x1="358.6" y1="506.4" x2="358.6" y2="515.0" stroke="#fa0064" stroke-width="4.9" stroke-linecap="round"/>
<line x1="360.2" y1="506.5" x2="360.2" y2="514.8" stroke="#fe005e" stroke-width="4.9" stroke-linecap="round"/>
<line x1="361.8" y1="508.3" x2="361.8" y2="514.2" stroke="#fe005d" stroke-width="4.9" stroke-linecap="round"/>
<line x1="363.4" y1="507.9" x2="363.4" y2="512.9" stroke="#ff005b" stroke-width="4.9" stroke-linecap="round"/>
<line x1="365.0" y1="509.0" x2="365.0" y2="512.4" stroke="#ff0058" stroke-width="4.9" stroke-linecap="round"/>
<line x1="366.6" y1="508.8" x2="366.6" y2="512.6" stroke="#ff0055" stroke-width="4.9" stroke-linecap="round"/>
<line x1="368.2" y1="509.5" x2="368.2" y2="511.8" stroke="#ff0056" stroke-width="4.9" stroke-linecap="round"/>
<line x1="369.8" y1="509.1" x2="369.8" y2="511.5" stroke="#ff0054" stroke-width="4.9" stroke-linecap="round"/>
<line x1="371.4" y1="510.4" x2="371.4" y2="510.8" stroke="#ff0053" stroke-width="4.9" stroke-linecap="round"/>
<line x1="373.0" y1="510.6" x2="373.0" y2="511.2" stroke="#ff0053" stroke-width="4.9" stroke-linecap="round"/>
<line x1="374.6" y1="510.6" x2="374.6" y2="511.2" stroke="#ff0051" stroke-width="4.9" stroke-linecap="round"/>
<line x1="376.2" y1="510.6" x2="376.2" y2="511.2" stroke="#ff0051" stroke-width="4.9" stroke-linecap="round"/>
<line x1="377.8" y1="510.6" x2="377.8" y2="511.1" stroke="#ff0051" stroke-width="4.9" stroke-linecap="round"/>
<line x1="379.4" y1="510.6" x2="379.4" y2="511.1" stroke="#ff0051" stroke-width="4.9" stroke-linecap="round"/>
<line x1="381.0" y1="510.6" x2="381.0" y2="511.1" stroke="#ff0051" stroke-width="4.9" stroke-linecap="round"/>
<line x1="382.6" y1="510.7" x2="382.6" y2="511.0" stroke="#ff0051" stroke-width="4.9" stroke-linecap="round"/>
<line x1="384.2" y1="510.7" x2="384.2" y2="511.0" stroke="#ff0051" stroke-width="4.9" stroke-linecap="round"/>
<line x1="385.8" y1="510.7" x2="385.8" y2="511.0" stroke="#ff0052" stroke-width="4.9" stroke-linecap="round"/>
<line x1="387.4" y1="510.7" x2="387.4" y2="511.0" stroke="#ff0051" stroke-width="4.9" stroke-linecap="round"/>
<line x1="389.0" y1="510.7" x2="389.0" y2="510.9" stroke="#ff0051" stroke-width="4.9" stroke-linecap="round"/>
<line x1="390.6" y1="510.7" x2="390.6" y2="510.9" stroke="#ff0051" stroke-width="4.9" stroke-linecap="round"/>
<line x1="392.2" y1="510.7" x2="392.2" y2="510.9" stroke="#ff0051" stroke-width="4.9" stroke-linecap="round"/>
<line x1="321.6" y1="496.3" x2="321.6" y2="525.0" stroke="#7a4bcd" stroke-width="4.9" stroke-linecap="round"/>
<line x1="322.1" y1="496.2" x2="322.1" y2="524.9" stroke="#7b4acd" stroke-width="4.9" stroke-linecap="round"/>
<line x1="322.6" y1="496.6" x2="322.6" y2="524.8" stroke="#7c49cc" stroke-width="4.9" stroke-linecap="round"/>
<circle cx="400.4" cy="510.8" r="2.45" fill="#ff0051"/>
<circle cx="411.6" cy="510.8" r="2.45" fill="#ff0051"/>
<circle cx="414.5" cy="510.8" r="2.45" fill="#ff0051"/>
<circle cx="446.9" cy="510.8" r="2.45" fill="#ff0051"/>
<line x1="314.6" y1="552.7" x2="322.5" y2="552.7" stroke="#ff0051" stroke-width="6" stroke-linecap="round"/>
<line x1="336" y1="552.4" x2="347.5" y2="552.4" stroke="#008bfb" stroke-width="5.4" stroke-linecap="round"/>
<circle cx="352.4" cy="552.4" r="2.45" fill="#008bfb"/>
<clipPath id="cidwg"><polygon points="322.0,549.7 323.5,545.8 324.7,543.9 326.0,541.4 327.0,539.2 328.0,537.8 329.6,537.0 331.0,536.1 333.0,535.9 334.3,536.7 334.9,538.7 335.2,542.5 336.0,544.7 338.0,547.0 340.0,548.6 342.0,549.2 342.0,555.5 340.0,556.4 338.0,557.5 336.0,559.7 335.2,563.0 334.8,567.1 333.5,569.5 331.5,569.7 329.6,568.3 328.0,566.9 327.0,564.7 326.0,561.9 324.7,559.1 323.5,558.1 322.0,555.7"/></clipPath>
<g clip-path="url(#cidwg)">
<rect x="318" y="530.1" width="30" height="45" fill="#9b23ad"/>
<polygon points="318.0,546.1 323.0,545.1 326.0,544.1 328.5,546.1 329.8,549.1 329.4,556.1 329.8,559.1 327.0,560.6 324.0,559.6 318.0,559.1" fill="#ff0058"/>
<polygon points="323.0,546.1 324.0,538.1 330.6,534.1 330.6,545.1 329.8,549.1 328.5,546.1 326.0,544.1" fill="#bb00a0"/>
<polygon points="330.5,533.1 336.0,533.1 335.0,545.1 333.5,548.1 331.0,547.1 330.3,543.1" fill="#8c3bbf"/>
<polygon points="329.8,549.1 333.5,548.1 333.8,556.1 333.0,563.1 330.0,563.1 329.4,556.1" fill="#754fd1"/>
<polygon points="333.6,546.1 335.2,542.1 343.0,544.1 343.0,561.1 335.2,563.1 333.8,560.1 334.2,553.1" fill="#008bfb"/>
<polygon points="324.0,559.6 327.0,560.6 330.0,562.6 333.8,563.1 335.0,566.1 334.0,571.1 324.0,571.1" fill="#952eb5"/>
<polygon points="322.0,550.1 323.5,548.1 324.5,552.1 323.5,556.1 322.0,555.1" fill="#ff0051"/>
</g>
<clipPath id="cdbp"><polygon points="321.3,593.5 323.0,591.3 324.5,585.7 325.5,583.0 327.0,580.7 328.5,579.4 330.0,578.6 331.5,578.5 333.0,579.9 334.0,582.4 335.5,583.5 337.0,588.5 338.5,590.7 339.8,594.6 338.5,598.5 337.0,601.8 335.5,605.1 334.0,606.2 333.0,609.3 331.5,610.7 330.0,610.7 328.5,609.3 327.0,607.4 325.5,605.1 324.5,601.8 323.0,597.9 321.3,595.7"/></clipPath>
<g clip-path="url(#cdbp)">
<rect x="318" y="572.2" width="25" height="45" fill="#008bfb"/>
<polygon points="325.0,583.2 329.0,579.2 329.0,596.2 326.0,596.2" fill="#0074f0"/>
<polygon points="328.5,576.2 334.0,576.2 333.0,586.2 329.0,586.2" fill="#8443c6"/>
<polygon points="328.8,586.2 333.2,585.2 333.5,598.2 329.5,598.2" fill="#b508a3"/>
<polygon points="329.0,598.2 333.5,597.2 333.5,606.2 334.0,614.2 327.0,614.2 328.5,605.2" fill="#8443c6"/>
<polygon points="333.2,581.2 337.0,584.2 341.0,590.2 341.0,600.2 336.0,606.2 333.5,607.2 333.5,598.2 333.2,590.2" fill="#ff0051"/>
<polygon points="333.2,581.2 335.2,582.2 335.5,588.2 333.4,592.2" fill="#d9008b"/>
</g>
</g>
<line x1="133.6" y1="636.4" x2="597.6" y2="636.4" stroke="#333" stroke-width="1.3"/>
<line x1="195.8" y1="636.4" x2="195.8" y2="640.9" stroke="#333" stroke-width="1.3"/>
<text transform="translate(181.47 657) scale(1.1200 1)" font-family='"Liberation Sans", sans-serif' font-size="15" fill="#333">−20</text>
<line x1="263.4" y1="636.4" x2="263.4" y2="640.9" stroke="#333" stroke-width="1.3"/>
<text transform="translate(249.07 657) scale(1.1200 1)" font-family='"Liberation Sans", sans-serif' font-size="15" fill="#333">−10</text>
<line x1="331" y1="636.4" x2="331" y2="640.9" stroke="#333" stroke-width="1.3"/>
<text transform="translate(326.62 657) scale(1.0500 1)" font-family='"Liberation Sans", sans-serif' font-size="15" fill="#333">0</text>
<line x1="398.6" y1="636.4" x2="398.6" y2="640.9" stroke="#333" stroke-width="1.3"/>
<text transform="translate(389.55 657) scale(1.0500 1)" font-family='"Liberation Sans", sans-serif' font-size="15" fill="#333">10</text>
<line x1="466.2" y1="636.4" x2="466.2" y2="640.9" stroke="#333" stroke-width="1.3"/>
<text transform="translate(457.35 657) scale(1.0500 1)" font-family='"Liberation Sans", sans-serif' font-size="15" fill="#333">20</text>
<line x1="533.8" y1="636.4" x2="533.8" y2="640.9" stroke="#333" stroke-width="1.3"/>
<text transform="translate(525.05 657) scale(1.0500 1)" font-family='"Liberation Sans", sans-serif' font-size="15" fill="#333">30</text>
<text transform="translate(38.6 433.8) scale(1.0015 1)" font-family='"Liberation Sans", sans-serif' font-size="17.0" fill="#333">Pre SBP</text>
<text transform="translate(73.16 475.7) scale(1.0346 1)" font-family='"Liberation Sans", sans-serif' font-size="17.0" fill="#333">DW</text>
<text transform="translate(3.52 517.6) scale(1.0705 1)" font-family='"Liberation Sans", sans-serif' font-size="17.0" fill="#333">Weight Loss</text>
<text transform="translate(54.92 559.5) scale(1.0684 1)" font-family='"Liberation Sans", sans-serif' font-size="17.0" fill="#333">IDWG</text>
<text transform="translate(35.96 601.4) scale(1.0338 1)" font-family='"Liberation Sans", sans-serif' font-size="17.0" fill="#333">Pre DBP</text>
<text transform="translate(207.14 677.2) scale(1.1147 1)" font-family='"Liberation Sans", sans-serif' font-size="17.0" fill="#333">SHAP value (impact on model output)</text>
<defs><linearGradient id="cb" x1="0" y1="1" x2="0" y2="0">
<stop offset="0.00" stop-color="#008bfb"/>
<stop offset="0.05" stop-color="#0084f9"/>
<stop offset="0.10" stop-color="#007cf5"/>
<stop offset="0.15" stop-color="#0074f0"/>
<stop offset="0.20" stop-color="#236cea"/>
<stop offset="0.25" stop-color="#4b63e3"/>
<stop offset="0.30" stop-color="#6359da"/>
<stop offset="0.35" stop-color="#754fd1"/>
<stop offset="0.40" stop-color="#8443c6"/>
<stop offset="0.45" stop-color="#9135ba"/>
<stop offset="0.50" stop-color="#9b23ad"/>
<stop offset="0.55" stop-color="#ab15a7"/>
<stop offset="0.60" stop-color="#bb00a0"/>
<stop offset="0.65" stop-color="#c80098"/>
<stop offset="0.70" stop-color="#d5008f"/>
<stop offset="0.75" stop-color="#e00086"/>
<stop offset="0.80" stop-color="#e9007c"/>
<stop offset="0.85" stop-color="#f20072"/>
<stop offset="0.90" stop-color="#f90067"/>
<stop offset="0.95" stop-color="#fe005c"/>
<stop offset="1.00" stop-color="#ff0051"/>
</linearGradient></defs>
<rect x="625.8" y="385.1" width="3.5" height="251.5" fill="url(#cb)"/>
<text transform="translate(633.38 390.8) scale(1.0576 1)" font-family='"Liberation Sans", sans-serif' font-size="15.2" fill="#333">High</text>
<text transform="translate(633.48 642.8) scale(0.9785 1)" font-family='"Liberation Sans", sans-serif' font-size="15.2" fill="#333">Low</text>
<text transform="translate(677.9 564.74) rotate(-90) scale(1.0747 1)" font-family='"Liberation Sans", sans-serif' font-size="16.3" fill="#333">Feature value</text>
<text transform="translate(370.43 714.2) scale(0.9579 1)" font-family='"Liberation Serif", serif' font-size="18.3" fill="#000">(b)</text>
</svg>
</body></html>
